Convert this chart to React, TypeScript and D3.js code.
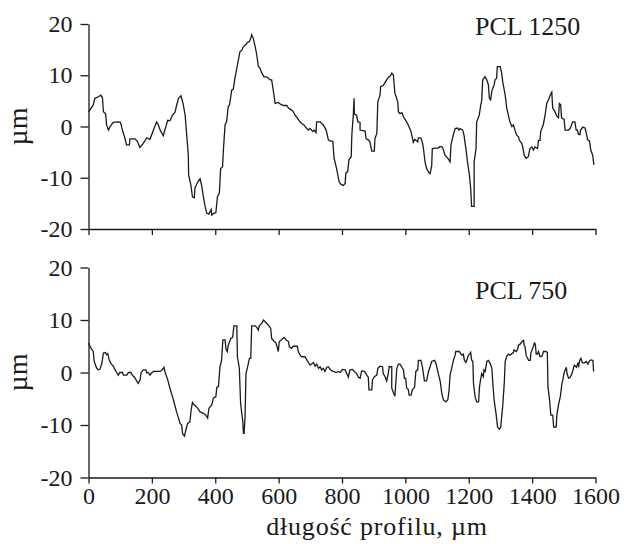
import { useEffect, useRef } from "react";
import * as d3 from "d3";

// profile length ticks, µm
const xTicks = [0, 200, 400, 600, 800, 1000, 1200, 1400, 1600];
const yTicks = [-20, -10, 0, 10, 20];

// [position along profile (µm), height (µm)]
const pcl1250: [number, number][] = [
  [0, 2.8], [15, 4.2], [20, 5.5], [31, 5.8], [39, 6.1], [44, 5.6], [47, 2.9], [54, 2.5], [57, 0.3],
  [63, -0.7], [68, 0], [78, 0.8], [94, 0.9], [101, 0.8], [107, -0.7], [115, -2.3], [120, -3.6],
  [129, -3.6], [131, -2.4], [147, -2.4], [155, -3], [162, -4.1], [173, -3.3], [184, -2.2], [194, -2.5],
  [205, -0.7], [215, 0.9], [220, 0.4], [226, -0.7], [236, -1.8], [241, -0.7], [250, 1.2], [257, 1.1],
  [265, 2.2], [273, 2.8], [278, 4.1], [284, 5.5], [292, 6.0], [299, 4.3], [305, 2.2], [310, -1.7],
  [315, -5.6], [316, -9.5], [323, -11.4], [328, -13.7], [334, -13.9], [336, -12], [345, -10.8],
  [352, -10.2], [357, -11.5], [362, -13.5], [368, -15.6], [373, -16.9], [380, -17.1], [387, -16.2],
  [389, -17.3], [394, -17], [402, -16.8], [407, -13.7], [413, -13], [417, -8.2], [423, -7.9],
  [426, -4.3], [431, 0.3], [436, 1], [441, 3.9], [445, 4.2], [452, 7.1], [457, 7.3], [462, 9.4],
  [470, 12], [478, 14.6], [484, 14.9], [489, 15.6], [497, 16], [501, 16.4], [508, 16.6], [512, 17.2],
  [515, 17.9], [520, 17.2], [526, 15.6], [531, 14], [536, 11.7], [541, 11.4], [547, 10.4], [554, 9.7],
  [562, 9.7], [568, 9.4], [573, 9.1], [578, 9.1], [583, 7.1], [589, 4.5], [599, 4.7], [607, 4.3],
  [615, 4.1], [626, 4.1], [631, 3.6], [641, 3.2], [646, 2.9], [652, 2.2], [659, 1.7], [665, 1.1],
  [673, 0.6], [680, 0.3], [686, -0.2], [694, -0.7], [699, -0.4], [708, -1], [712, -0.7], [718, -1.2],
  [720, 0.9], [731, 0.9], [736, 0.6], [741, 0.3], [750, -0.7], [757, -2.6], [762, -2.8], [771, -2.9],
  [775, -6.2], [783, -8.2], [791, -10.8], [797, -11.3], [804, -11.5], [810, -11.1], [812, -9.1],
  [818, -8.8], [822, -6.5], [829, -5.9], [831, -1.7], [836, 2.6], [838, 5.5], [839, 2.4], [846, 2.2],
  [850, 0.9], [857, 0.8], [857, -0.7], [873, -0.9], [876, -2.4], [883, -2.6], [888, -3], [894, -4.8],
  [902, -4.8], [904, -2.4], [910, -1.3], [913, 4.8], [920, 6.1], [922, 7.8], [930, 8], [934, 8.4],
  [941, 9.1], [946, 9.6], [952, 9.8], [957, 10.4], [962, 10.1], [967, 6.5], [976, 4.8], [978, 2.9],
  [983, 2.5], [989, 2.7], [994, 1.9], [999, 1.4], [1004, 0.9], [1009, 0.3], [1018, -1], [1025, -3.1],
  [1030, -2.5], [1039, -3], [1041, -2.2], [1049, -2.2], [1054, -3.2], [1057, -4.3], [1062, -6.9],
  [1067, -8.2], [1075, -9.1], [1078, -9.2], [1083, -7.7], [1085, -4.3], [1094, -4.2], [1104, -4.2],
  [1109, -3.9], [1117, -4], [1120, -4.6], [1125, -5.6], [1134, -6.2], [1141, -6.9], [1144, -3.6],
  [1151, -1.7], [1157, -0.4], [1165, -0.3], [1169, -0.7], [1173, -0.4], [1181, -0.7], [1185, -1.7],
  [1191, -4.3], [1196, -6.9], [1202, -9.5], [1206, -12], [1209, -15.6], [1217, -15.6], [1217, -6.9],
  [1223, -4.3], [1225, 0.9], [1233, 2.2], [1238, 4.2], [1241, 5.1], [1244, 9.1], [1251, 9.7],
  [1257, 9.1], [1262, 8.1], [1265, 5.5], [1269, 5.2], [1273, 7], [1280, 8.1], [1283, 9.1], [1288, 9.4],
  [1290, 11.7], [1299, 11.7], [1304, 10.4], [1307, 8.8], [1315, 6.1], [1320, 3.6], [1325, 2.2],
  [1330, 0.9], [1336, 0], [1341, 0.3], [1346, -0.7], [1351, -1.7], [1357, -2], [1360, -2.7],
  [1367, -3.3], [1370, -3.9], [1375, -5.6], [1381, -6.2], [1388, -5.9], [1393, -4.3], [1399, -4],
  [1404, -4.6], [1409, -4], [1417, -4.3], [1420, -2.7], [1425, -2.7], [1427, -1], [1435, 0.3],
  [1441, 2.2], [1446, 4.5], [1451, 5.1], [1457, 6.1], [1462, 6.7], [1465, 3.6], [1472, 2.9], [1478, 2],
  [1483, 1.7], [1486, 4.5], [1490, 4.3], [1493, 1.7], [1501, 1.4], [1504, -0.7], [1514, -0.7],
  [1520, -0.4], [1528, 0.9], [1535, 0.9], [1539, -0.7], [1543, -0.7], [1546, -1.5], [1551, -1.6],
  [1553, -0.7], [1560, -0.1], [1567, -0.3], [1572, -1.6], [1575, -2.6], [1581, -2.8], [1585, -4.6],
  [1591, -5.6], [1595, -7.5],
];

const pcl750: [number, number][] = [
  [0, 5.6], [8, 4.6], [15, 4], [18, 2.1], [26, 0.8], [31, 0.5], [36, 0.6], [42, 1.7], [47, 3.7],
  [54, 3.8], [57, 3.4], [61, 3.6], [65, 2.4], [71, 1.7], [78, 1.2], [84, 0.5], [89, 0], [94, -0.5],
  [99, 0], [107, 0], [110, -0.5], [121, -0.5], [126, 0], [134, 0], [138, -0.5], [145, -0.9],
  [152, -1.6], [157, -2.1], [163, -1.4], [166, 0], [173, 0.5], [181, 0.5], [184, -0.1], [189, 0],
  [194, -0.5], [199, -0.1], [205, 0.2], [215, 0.2], [226, 0.2], [233, 0.5], [238, 1], [241, 0.2],
  [250, -1.4], [257, -3], [265, -4.6], [271, -5.9], [278, -7.5], [284, -8.7], [289, -9.7], [294, -10],
  [297, -11.7], [303, -12.1], [307, -11], [313, -9.7], [320, -9.4], [324, -7.1], [328, -5.7],
  [334, -6.2], [342, -6.6], [347, -7], [352, -7.5], [359, -7.7], [366, -7.9], [370, -8.1], [376, -8.7],
  [380, -6.8], [389, -6.2], [394, -4.9], [402, -4.6], [405, -2.8], [410, -2.7], [415, 1.1], [420, 2.3],
  [424, 6.2], [431, 6.2], [434, 4.4], [438, 4], [441, 5.2], [449, 6.5], [455, 6.7], [459, 8.9],
  [468, 8.9], [470, 3], [476, 0.8], [480, -5.9], [487, -9.4], [489, -11.6], [491, -11.6], [494, -8.4],
  [497, -0.2], [501, 0.8], [508, 2.7], [512, 2.7], [515, 8.9], [526, 8.9], [531, 8.6], [536, 8.1],
  [539, 8.9], [547, 9.4], [552, 10], [557, 9.7], [568, 9], [575, 8.4], [578, 6.5], [586, 5.9],
  [592, 5.6], [599, 4], [602, 5.9], [610, 6.3], [617, 6.7], [624, 6.2], [631, 5.9], [634, 4.9],
  [641, 4.6], [646, 5], [659, 5], [662, 4], [668, 3.3], [673, 3], [683, 3], [689, 2.4], [694, 1.9],
  [699, 1.4], [704, 1.6], [710, 1.9], [715, 1.2], [720, 1.6], [726, 0.8], [731, 1.1], [736, 0.5],
  [741, 0.8], [746, 0.2], [752, 1], [757, 1.1], [762, 0.6], [768, 0.3], [773, 0.2], [781, 0],
  [789, 0.2], [794, 0], [797, 0.2], [801, 0.6], [810, 0.5], [815, -0.2], [820, -0.9], [825, 0.5],
  [833, 0.6], [839, 0.2], [846, -0.2], [852, -0.9], [857, -1.1], [862, 0.3], [871, 0.2], [878, -0.5],
  [883, -0.9], [885, -3.3], [894, -3.3], [896, -1.4], [902, -0.8], [910, -0.5], [913, 0.8], [920, 1.2],
  [928, 1.1], [930, -0.2], [936, -0.8], [941, -1.6], [946, -0.2], [949, 1.1], [957, 1.1], [957, -3],
  [962, -3.8], [967, -4.5], [973, 0.8], [978, 1.6], [983, 1.6], [989, 1], [994, 0.5], [997, -1.1],
  [1001, -1.1], [1004, -3], [1009, -3.2], [1012, -4.3], [1018, -4.3], [1022, -3.3], [1029, -2.8],
  [1033, 0.2], [1039, 0.5], [1041, 2.3], [1049, 2.3], [1054, 1], [1060, -1.6], [1067, -1.6],
  [1073, 0.2], [1078, 1.1], [1083, 2.1], [1092, 2.3], [1096, 1.8], [1099, 1.1], [1105, -0.5],
  [1110, -1.7], [1115, -4], [1120, -5.2], [1128, -5.6], [1134, -5.2], [1138, -3.3], [1141, -0.5],
  [1146, 0.8], [1152, 2.4], [1157, 3.3], [1159, 4], [1170, 4], [1178, 3.3], [1183, 3.5], [1186, 2.4],
  [1191, 1.9], [1196, 2.7], [1199, 3.3], [1204, 3.6], [1206, 3.8], [1209, 2.4], [1213, 2.1],
  [1215, -2.1], [1220, -4.6], [1225, -5.6], [1231, -5.6], [1234, -2.7], [1238, -1.1], [1241, -0.2],
  [1246, -0.8], [1248, 0.5], [1252, 0.2], [1257, 2.1], [1262, 2.3], [1267, 1.8], [1273, 0.8],
  [1276, -2.1], [1280, -5.2], [1283, -6.5], [1286, -7.8], [1291, -10.4], [1297, -10.8], [1301, -10.4],
  [1304, -8.4], [1307, -6.5], [1312, -2.1], [1315, 2.1], [1320, 3.1], [1325, 3.5], [1331, 3.3],
  [1336, 3.6], [1341, 3.8], [1343, 4.3], [1350, 4], [1354, 4.4], [1357, 5.2], [1362, 5.4], [1368, 5.9],
  [1373, 6.1], [1375, 5.2], [1378, 4.8], [1381, 3.3], [1389, 2.3], [1394, 2.3], [1396, 3.7],
  [1402, 4.6], [1407, 5.6], [1410, 5.4], [1413, 3.5], [1417, 3.5], [1420, 4], [1425, 3], [1431, 3.1],
  [1436, 4], [1444, 4], [1448, 3.8], [1450, -2.7], [1455, -5.2], [1459, -8.1], [1465, -8.1],
  [1468, -10.4], [1476, -10.4], [1478, -8.1], [1483, -6.2], [1489, -4.6], [1494, -2.1], [1497, -1.4],
  [1501, 0], [1508, 1], [1510, -0.2], [1515, -1.1], [1520, -0.9], [1526, -0.2], [1529, 0.5],
  [1533, 1.4], [1540, 1], [1544, 1.7], [1547, 1.2], [1550, 2.3], [1554, 2.7], [1558, 1.9], [1563, 1.8],
  [1571, 2.1], [1576, 1.6], [1582, 2.3], [1586, 2.4], [1592, 2.3], [1594, 0.2],
];

const panelNames = ["PCL 1250", "PCL 750"];
const yLabel = "µm";
const xLabel = "długość profilu, µm";

const width = 624;
const height = 544;
const plotLeft = 88.5;
const plotRight = 595.5;
const font = "'Liberation Serif', 'Times New Roman', serif";
const ink = "#1a1a1a";

const x = d3.scaleLinear().domain([0, 1600]).range([plotLeft, plotRight]);

const Panel = ({ data, name, top, bottom, nameBaseline, showXLabels }) => {
  const xAxisRef = useRef<SVGGElement>(null);
  const yAxisRef = useRef<SVGGElement>(null);
  const y = d3.scaleLinear().domain([-20, 20]).range([bottom, top]);
  const line = d3.line<[number, number]>().x((d) => x(d[0])).y((d) => y(d[1]));

  useEffect(() => {
    const gx = d3.select(xAxisRef.current);
    gx.call(
      d3
        .axisBottom(x)
        .tickValues(xTicks)
        .tickSize(6)
        .tickSizeOuter(0)
        .tickPadding(3)
        .tickFormat((d) => (showXLabels ? String(d) : ""))
    );
    const gy = d3.select(yAxisRef.current);
    gy.call(
      d3
        .axisLeft(y)
        .tickValues(yTicks)
        .tickSize(8)
        .tickSizeOuter(0)
        .tickPadding(8)
        .tickFormat((d) => String(d))
    );
    [gx, gy].forEach((g) => {
      g.attr("font-family", font).attr("font-size", 24);
      g.selectAll("path, line").attr("stroke", ink).attr("stroke-width", 1.3);
      g.selectAll("text").attr("fill", ink);
    });
  }, []);

  return (
    <g>
      <path d={line(data)} fill="none" stroke={ink} strokeWidth={1.3} />
      <g ref={xAxisRef} transform={`translate(0,${bottom})`} />
      <g ref={yAxisRef} transform={`translate(${plotLeft},0)`} />
      <text x={475} y={nameBaseline} fontFamily={font} fontSize={26} fill={ink}>
        {name}
      </text>
      <text
        transform={`translate(27,${y(0)}) rotate(-90)`}
        textAnchor="middle"
        fontFamily={font}
        fontSize={28}
        fill={ink}
      >
        {yLabel}
      </text>
    </g>
  );
};

export default function App() {
  return (
    <svg
      width={width}
      height={height}
      style={{ position: "absolute", left: 0, top: 0, background: "#fff" }}
    >
      <Panel data={pcl1250} name={panelNames[0]} top={24} bottom={229} nameBaseline={35} showXLabels={false} />
      <Panel data={pcl750} name={panelNames[1]} top={267.5} bottom={477.5} nameBaseline={299} showXLabels={true} />
      <text
        x={377}
        y={535}
        textAnchor="middle"
        fontFamily={font}
        fontSize={26}
        letterSpacing={0.8}
        fill={ink}
      >
        {xLabel}
      </text>
    </svg>
  );
}
